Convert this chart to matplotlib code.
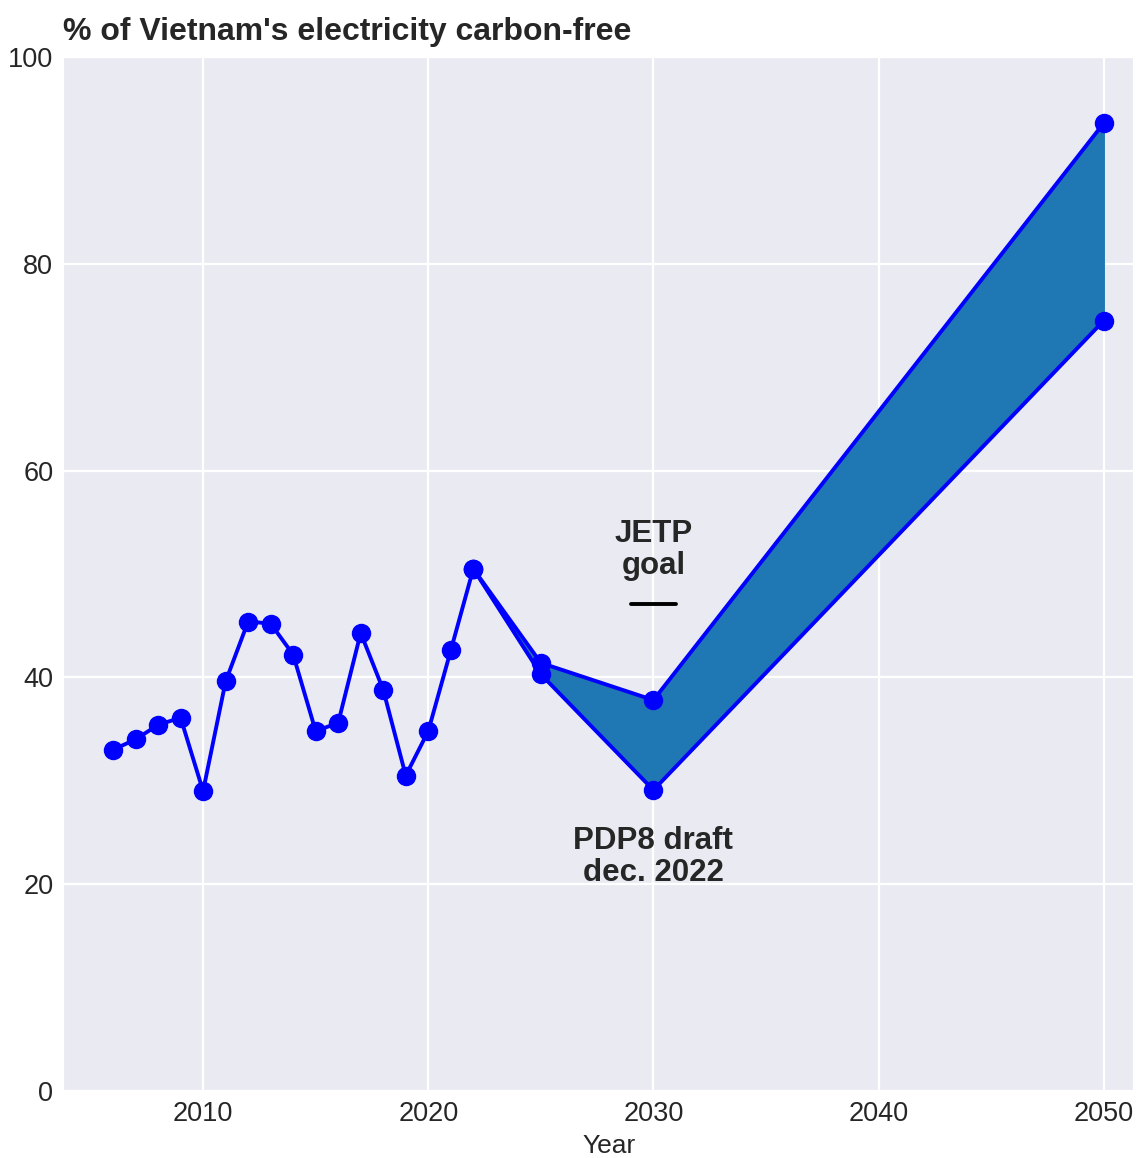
import matplotlib
matplotlib.use("Agg")
import matplotlib.pyplot as plt
import seaborn as sns

sns.set_style("darkgrid")
plt.rcParams['font.family'] = ['Liberation Sans', 'DejaVu Sans']

hist_years = [2006, 2007, 2008, 2009, 2010, 2011, 2012, 2013, 2014, 2015, 2016,
              2017, 2018, 2019, 2020, 2021, 2022]
hist_values = [33.0, 34.0, 35.4, 36.1, 29.0, 39.6, 45.4, 45.2, 42.2, 34.8, 35.6,
               44.3, 38.8, 30.5, 34.8, 42.6, 50.5]

proj_years = [2022, 2025, 2030, 2050]
proj_upper = [50.5, 41.4, 37.8, 93.6]
proj_lower = [50.5, 40.3, 29.1, 74.5]

jetp_years = [2029, 2031]
jetp_value = 47.1

fig = plt.figure(figsize=(11.44, 11.58), dpi=100)
ax = fig.add_axes([0.0551, 0.0579, 0.9353, 0.8929])
ax.grid(True, color='white', lw=1.6)

ax.fill_between(proj_years, proj_lower, proj_upper, color='#1f77b4')
ax.plot(hist_years, hist_values, 'b-o', lw=2.8, ms=13)
ax.plot(proj_years, proj_upper, 'b-o', lw=2.8, ms=13)
ax.plot(proj_years, proj_lower, 'b-o', lw=2.8, ms=13)
ax.plot(jetp_years, [jetp_value, jetp_value], 'k-', lw=2.8)

ax.text(2030, 52.3, "JETP\ngoal", ha='center', va='center', fontsize=22.5,
        fontweight='bold', color='#262626', linespacing=1.1)
ax.text(2030, 22.6, "PDP8 draft\ndec. 2022", ha='center', va='center', fontsize=22.5,
        fontweight='bold', color='#262626', linespacing=1.1)

ax.set_xlim(2003.78, 2051.3)
ax.set_ylim(0, 100)
ax.set_xticks([2010, 2020, 2030, 2040, 2050])
ax.tick_params(labelsize=19.5)
ax.set_xlabel("Year", fontsize=19)
ax.xaxis.set_label_coords(0.51, -0.042)
ax.text(0.0, 1.010, "% of Vietnam's electricity carbon-free", transform=ax.transAxes,
        ha='left', va='bottom', fontsize=23, fontweight='bold', color='#262626')

fig.savefig("out.png", dpi=100)
